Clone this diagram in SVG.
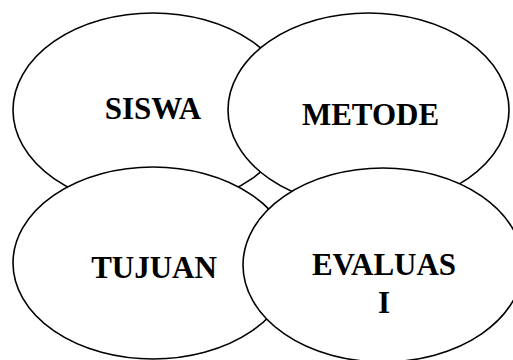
<svg xmlns="http://www.w3.org/2000/svg" width="513" height="360" viewBox="0 0 513 360">
  <style>
    .bubble { fill: #ffffff; stroke: #000000; stroke-width: 1.6; }
    .label { font-family: "Liberation Serif", "Times New Roman", serif; font-weight: bold; font-size: 31px; fill: #000000; text-anchor: middle; }
  </style>
  <rect width="513" height="360" fill="#ffffff"/>
  <g id="siswa">
    <ellipse class="bubble" cx="153" cy="110" rx="140" ry="97"/>
    <text class="label" x="153" y="119">SISWA</text>
  </g>
  <g id="metode">
    <ellipse class="bubble" cx="368.5" cy="110" rx="140.5" ry="97"/>
    <text class="label" x="370.5" y="125">METODE</text>
  </g>
  <g id="tujuan">
    <ellipse class="bubble" cx="153" cy="263" rx="140" ry="96"/>
    <text class="label" x="154" y="278">TUJUAN</text>
  </g>
  <g id="evaluasi">
    <ellipse class="bubble" cx="383" cy="265" rx="140" ry="97"/>
    <text class="label" x="384" y="275">EVALUAS</text>
    <text class="label" x="384" y="313">I</text>
  </g>
  <g id="connectors"></g>
</svg>
